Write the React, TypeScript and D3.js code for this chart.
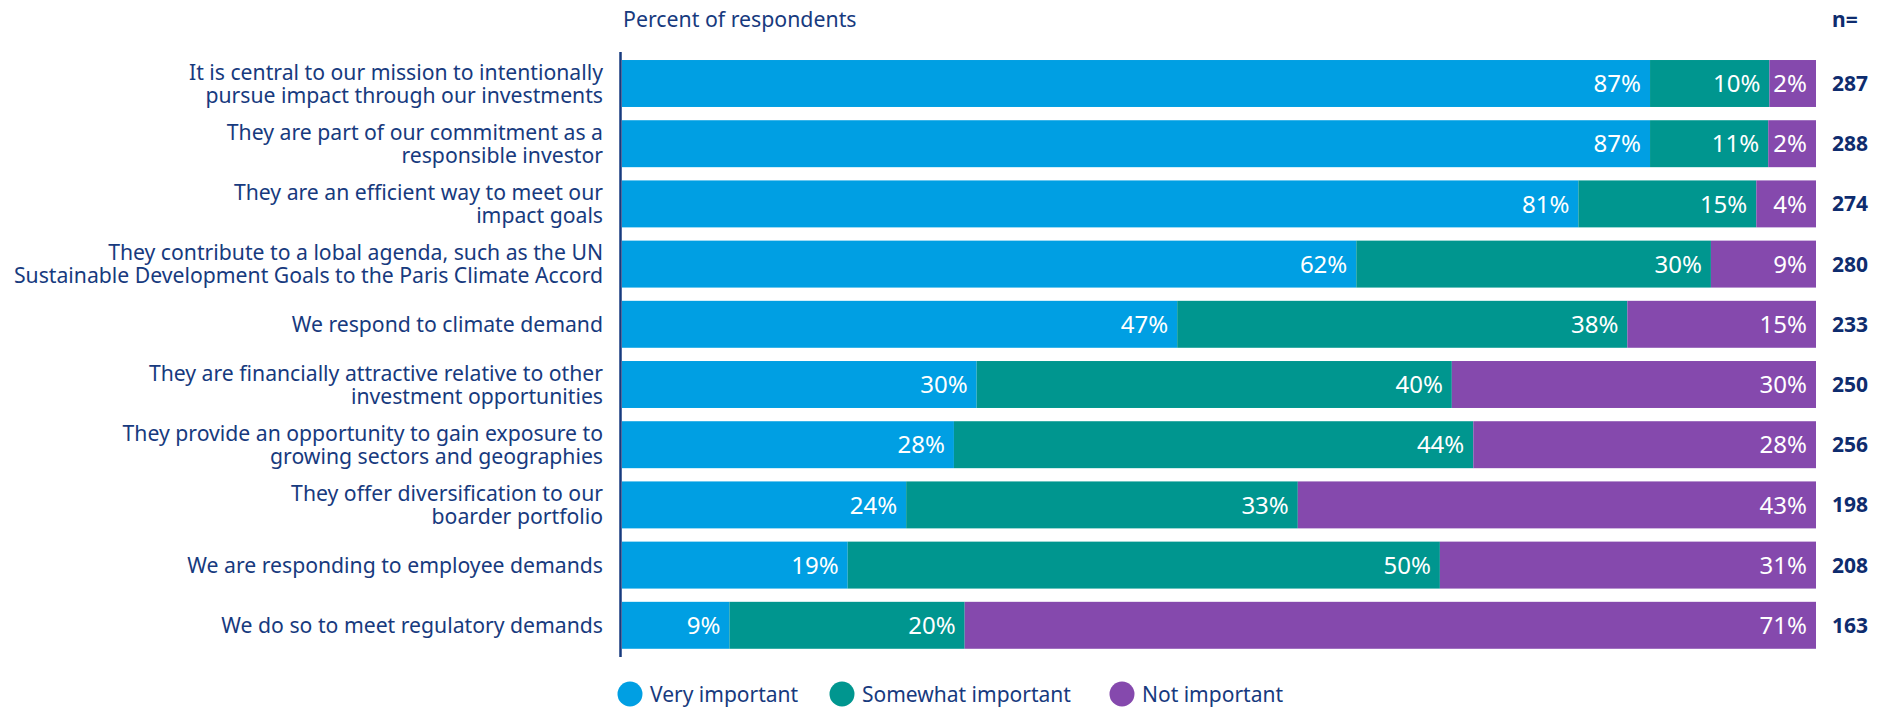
import React, { useEffect } from 'react';
import * as d3 from 'd3';

// category labels, already broken into lines as in the source
const categories: string[][] = [
  ['It is central to our mission to intentionally', 'pursue impact through our investments'],
  ['They are part of our commitment as a', 'responsible investor'],
  ['They are an efficient way to meet our', 'impact goals'],
  ['They contribute to a lobal agenda, such as the UN', 'Sustainable Development Goals to the Paris Climate Accord'],
  ['We respond to climate demand'],
  ['They are financially attractive relative to other', 'investment opportunities'],
  ['They provide an opportunity to gain exposure to', 'growing sectors and geographies'],
  ['They offer diversification to our', 'boarder portfolio'],
  ['We are responding to employee demands'],
  ['We do so to meet regulatory demands'],
];

// printed labels
const veryLabels = [87, 87, 81, 62, 47, 30, 28, 24, 19, 9];
const somewhatLabels = [10, 11, 15, 30, 38, 40, 44, 33, 50, 20];
const notLabels = [2, 2, 4, 9, 15, 30, 28, 43, 31, 71];

// segment widths as drawn (share of bar)
const veryShare = [86.1, 86.1, 80.1, 61.5, 46.5, 29.7, 27.8, 23.8, 18.9, 9.0];
const somewhatShare = [10.0, 9.9, 14.9, 29.7, 37.7, 39.8, 43.5, 32.8, 49.6, 19.7];
const notShare = [3.9, 4.0, 5.0, 8.8, 15.8, 30.5, 28.7, 43.4, 31.5, 71.3];

const nValues = [287, 288, 274, 280, 233, 250, 256, 198, 208, 163];

const seriesNames = ['Very important', 'Somewhat important', 'Not important'];
const seriesColors = ['#009FE3', '#00968F', '#8549AD'];

const textColor = '#173A7E';
const font = '"Noto Sans", "Open Sans", sans-serif';

const W = 1887;
const H = 709;

export default function App() {
  useEffect(() => {
    document.body.style.margin = '0';
  }, []);

  const x = d3.scaleLinear().domain([0, 100]).range([622, 1816]);
  const ids = categories.map((_, i) => String(i));
  const y = d3.scaleBand<string>().domain(ids).range([53.4, 655.4]).paddingInner(0.22).paddingOuter(0.11);

  const rows = ids.map((id, i) => {
    const shares = [veryShare[i], somewhatShare[i], notShare[i]];
    const labels = [veryLabels[i], somewhatLabels[i], notLabels[i]];
    let acc = 0;
    const segs = shares.map((s, k) => {
      const x0 = acc;
      acc += s;
      return { x0, x1: acc, label: labels[k], color: seriesColors[k] };
    });
    return { id, i, segs };
  });

  const legendX = [630, 842, 1122];
  const legendY = 694;

  return (
    <svg width={W} height={H} style={{ display: 'block', fontFamily: font }}>
      <rect width={W} height={H} fill="#fff" />
      <text x={623} y={27} fontSize={21.3} fill={textColor}>Percent of respondents</text>
      <text x={1832} y={27} fontSize={21} fontWeight={700} fill="#0E2C6E">n=</text>

      {rows.map(r => {
        const top = y(r.id)!;
        const bh = y.bandwidth();
        const cy = top + bh / 2;
        const lines = categories[r.i];
        const lh = 23.2;
        const y0 = cy - ((lines.length - 1) * lh) / 2;
        return (
          <g key={r.id}>
            {r.segs.map((s, k) => (
              <rect key={k} x={x(s.x0)} y={top} width={x(s.x1) - x(s.x0)} height={bh} fill={s.color} />
            ))}
            {r.segs.map((s, k) => (
              <text key={'t' + k} x={x(s.x1) - 9} y={cy} dy="0.36em" textAnchor="end"
                fontSize={24} fill="#fff">{s.label}%</text>
            ))}
            <text x={1832} y={cy} dy="0.36em" fontSize={21} fontWeight={700} fill="#0E2C6E">{nValues[r.i]}</text>
            {lines.map((l, j) => (
              <text key={'c' + j} x={603} y={y0 + j * lh} dy="0.36em" textAnchor="end"
                fontSize={21.2} fill={textColor}>{l}</text>
            ))}
          </g>
        );
      })}

      <line x1={620.5} x2={620.5} y1={52} y2={657} stroke={textColor} strokeWidth={2.5} />

      {seriesNames.map((name, k) => (
        <g key={name}>
          <circle cx={legendX[k]} cy={legendY} r={12.5} fill={seriesColors[k]} />
          <text x={legendX[k] + 20} y={legendY} dy="0.36em" fontSize={21} fill={textColor}>{name}</text>
        </g>
      ))}
    </svg>
  );
}
